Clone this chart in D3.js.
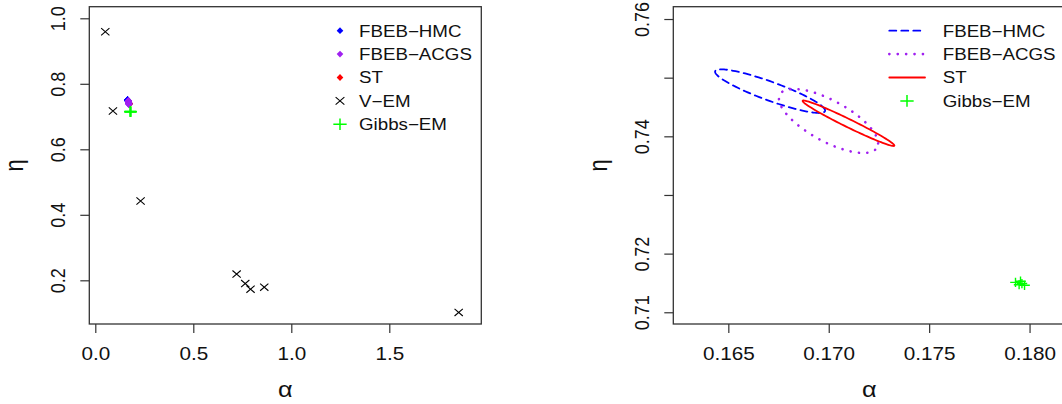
<!DOCTYPE html>
<html>
<head>
<meta charset="utf-8">
<script src="https://cdn.jsdelivr.net/npm/d3@7"></script>
<style>
  body { margin: 0; background: #fff; }
  text { font-family: "Liberation Sans", Arial, Helvetica, sans-serif; fill: #111; }
</style>
</head>
<body>
<svg id="chart" width="1062" height="404"></svg>
<script>
// ---- data ----
const methods = ["FBEB-HMC", "FBEB-ACGS", "ST"];
// ellipse summaries (centre, sd, correlation) for each method
const ellAlpha   = [0.16708, 0.16999, 0.170985];
const ellEta     = [0.74770, 0.74262, 0.74223];
const ellSdAlpha = [0.00274, 0.00247, 0.002285];
const ellSdEta   = [0.00372, 0.00546, 0.00388];
const ellRho     = [-0.89, -0.70, -0.98];

const vemAlpha = [0.051, 0.090, 0.231, 0.721, 0.765, 0.792, 0.862, 1.854];
const vemEta   = [0.959, 0.717, 0.442, 0.219, 0.190, 0.173, 0.179, 0.102];

const gibbsAlpha = [0.17930, 0.17955, 0.17962, 0.17975, 0.17948];
const gibbsEta   = [0.71510, 0.71530, 0.71490, 0.71460, 0.71470];

const leftXTicks = [0, 0.5, 1.0, 1.5];
const leftXLabels = ["0.0", "0.5", "1.0", "1.5"];
const leftYTicks = [0.2, 0.4, 0.6, 0.8, 1.0];
const leftYLabels = ["0.2", "0.4", "0.6", "0.8", "1.0"];
const rightXTicks = [0.165, 0.170, 0.175, 0.180];
const rightXLabels = ["0.165", "0.170", "0.175", "0.180"];
const rightYTicks = [0.71, 0.72, 0.73, 0.74, 0.75, 0.76];
const rightYLabels = ["0.71", "0.72", "", "0.74", "", "0.76"];

const legendLeft = ["FBEB-HMC", "FBEB-ACGS", "ST", "V-EM", "Gibbs-EM"];
const legendRight = ["FBEB-HMC", "FBEB-ACGS", "ST", "Gibbs-EM"];

// ---- styles ----
const colors = {"FBEB-HMC": "#0000ff", "FBEB-ACGS": "#a020f0", "ST": "#ff0000", "V-EM": "#000", "Gibbs-EM": "#00ff00"};
const dashes = {"FBEB-HMC": "7,5", "FBEB-ACGS": "0.1,8.3", "ST": null};
const widths = {"FBEB-HMC": 1.8, "FBEB-ACGS": 2.6, "ST": 1.8};
const SX = 1.15;   // the picture is slightly wider than tall

const svg = d3.select("#chart");
svg.append("rect").attr("width", 1062).attr("height", 404).attr("fill", "#fff");

function ellipsePts(i, n) {
    return d3.range(n + 1).map(k => {
        const t = 2 * Math.PI * k / n;
        const r = ellRho[i];
        return [ellAlpha[i] + ellSdAlpha[i] * Math.cos(t),
                ellEta[i] + ellSdEta[i] * (r * Math.cos(t) + Math.sqrt(1 - r * r) * Math.sin(t))];
    });
}

function cross(g, x, y, h, color, w) {
    g.append("path")
        .attr("d", `M${x - h * SX},${y - h}L${x + h * SX},${y + h}M${x - h * SX},${y + h}L${x + h * SX},${y - h}`)
        .attr("stroke", color).attr("stroke-width", w).attr("fill", "none");
}
function plus(g, x, y, h, color, w) {
    g.append("path")
        .attr("d", `M${x - h * SX},${y}L${x + h * SX},${y}M${x},${y - h}L${x},${y + h}`)
        .attr("stroke", color).attr("stroke-width", w).attr("fill", "none");
}
function diamond(g, x, y, h, color) {
    g.append("path")
        .attr("d", `M${x},${y - h}L${x + h * 0.85 * SX},${y}L${x},${y + h}L${x - h * 0.85 * SX},${y}Z`)
        .attr("fill", color);
}

function makePanel(cfg) {
    const g = svg.append("g");
    const x = d3.scaleLinear().domain(cfg.xDomain).range([cfg.x0, cfg.x1]);
    const y = d3.scaleLinear().domain(cfg.yDomain).range([cfg.y1, cfg.y0]);

    const xa = g.append("g").attr("transform", `translate(0,${cfg.y1})`)
        .call(d3.axisBottom(x).tickValues(cfg.xTicks).tickSize(9).tickSizeOuter(0)
            .tickFormat((d, i) => cfg.xLabels[i]));
    const ya = g.append("g").attr("transform", `translate(${cfg.x0},0)`)
        .call(d3.axisLeft(y).tickValues(cfg.yTicks).tickSize(9).tickSizeOuter(0)
            .tickFormat((d, i) => cfg.yLabels[i]));
    [xa, ya].forEach(a => {
        a.attr("font-size", 18).attr("font-family", null);
        a.select(".domain").remove();
        a.selectAll(".tick line").attr("stroke", "#333").attr("stroke-width", 1.2);
    });
    xa.selectAll(".tick text").attr("y", 0).attr("dy", "0.36em").attr("fill", "#111")
        .attr("transform", `translate(0,29.3) scale(${SX},1)`);
    ya.selectAll(".tick text").attr("x", 0).attr("dy", "0.36em").attr("fill", "#111")
        .attr("text-anchor", "middle")
        .attr("transform", `translate(-31.5,0) scale(${SX},1) rotate(-90)`);

    g.append("rect")
        .attr("x", cfg.x0).attr("y", cfg.y0)
        .attr("width", cfg.x1 - cfg.x0).attr("height", cfg.y1 - cfg.y0)
        .attr("fill", "none").attr("stroke", "#333").attr("stroke-width", 1.3);

    g.append("text").text("α")
        .attr("text-anchor", "middle").attr("font-size", 22)
        .attr("transform", `translate(${(cfg.x0 + cfg.x1) / 2},397) scale(${SX},1)`);
    g.append("text").text("η")
        .attr("text-anchor", "middle").attr("font-size", 22)
        .attr("transform", `translate(${cfg.x0 - 66.5},${(cfg.y0 + cfg.y1) / 2}) scale(${SX},1) rotate(-90)`);
    return {g, x, y};
}

// ---- left panel ----
const L = makePanel({
    x0: 89.3, x1: 481.3, y0: 6.7, y1: 324,
    xDomain: [-0.0306, 1.9694], yDomain: [0.0666, 1.0354],
    xTicks: leftXTicks, xLabels: leftXLabels, yTicks: leftYTicks, yLabels: leftYLabels
});
const lm = L.g.append("g");
[0, 2, 1].forEach(i => {
    ellipsePts(i, 36).forEach(p => diamond(lm, L.x(p[0]), L.y(p[1]), 3.4, colors[methods[i]]));
});
vemAlpha.forEach((a, i) => cross(lm, L.x(a), L.y(vemEta[i]), 3.6, "#000", 1.1));
gibbsAlpha.forEach((a, i) => plus(lm, L.x(a), L.y(gibbsEta[i]), 5.2, colors["Gibbs-EM"], 1.5));

const legL = L.g.append("g");
legendLeft.forEach((name, i) => {
    const cy = 30.7 + i * 23.4;
    if (name === "V-EM") cross(legL, 340, cy, 3.8, "#000", 1.1);
    else if (name === "Gibbs-EM") plus(legL, 340, cy, 5.8, colors[name], 1.5);
    else diamond(legL, 340, cy, 3.4, colors[name]);
    legL.append("text").text(name.replace("-", "\u2212"))
        .attr("font-size", 16.3).attr("dy", "0.36em")
        .attr("transform", `translate(359,${cy}) scale(${SX},1)`);
});

// ---- right panel ----
const R = makePanel({
    x0: 673.3, x1: 1065.3, y0: 6.7, y1: 324,
    xDomain: [0.16226, 0.18178], yDomain: [0.7080, 0.7621],
    xTicks: rightXTicks, xLabels: rightXLabels, yTicks: rightYTicks, yLabels: rightYLabels
});
const line = d3.line().x(d => R.x(d[0])).y(d => R.y(d[1]));
methods.forEach((m, i) => {
    R.g.append("path")
        .attr("d", line(ellipsePts(i, 120)))
        .attr("fill", "none")
        .attr("stroke", colors[m])
        .attr("stroke-width", widths[m])
        .attr("stroke-linecap", "round")
        .attr("stroke-dasharray", dashes[m]);
});
gibbsAlpha.forEach((a, i) => plus(R.g, R.x(a), R.y(gibbsEta[i]), 4.6, colors["Gibbs-EM"], 1.4));

const legR = R.g.append("g");
legendRight.forEach((name, i) => {
    const cy = 30.7 + i * 23.4;
    if (name === "Gibbs-EM") plus(legR, 907, cy, 5.8, colors[name], 1.5);
    else legR.append("line")
        .attr("x1", 889.3).attr("x2", 925).attr("y1", cy).attr("y2", cy)
        .attr("stroke", colors[name])
        .attr("stroke-width", widths[name])
        .attr("stroke-linecap", "round")
        .attr("stroke-dasharray", dashes[name]);
    legR.append("text").text(name.replace("-", "\u2212"))
        .attr("font-size", 16.3).attr("dy", "0.36em")
        .attr("transform", `translate(942.7,${cy}) scale(${SX},1)`);
});
</script>
</body>
</html>
